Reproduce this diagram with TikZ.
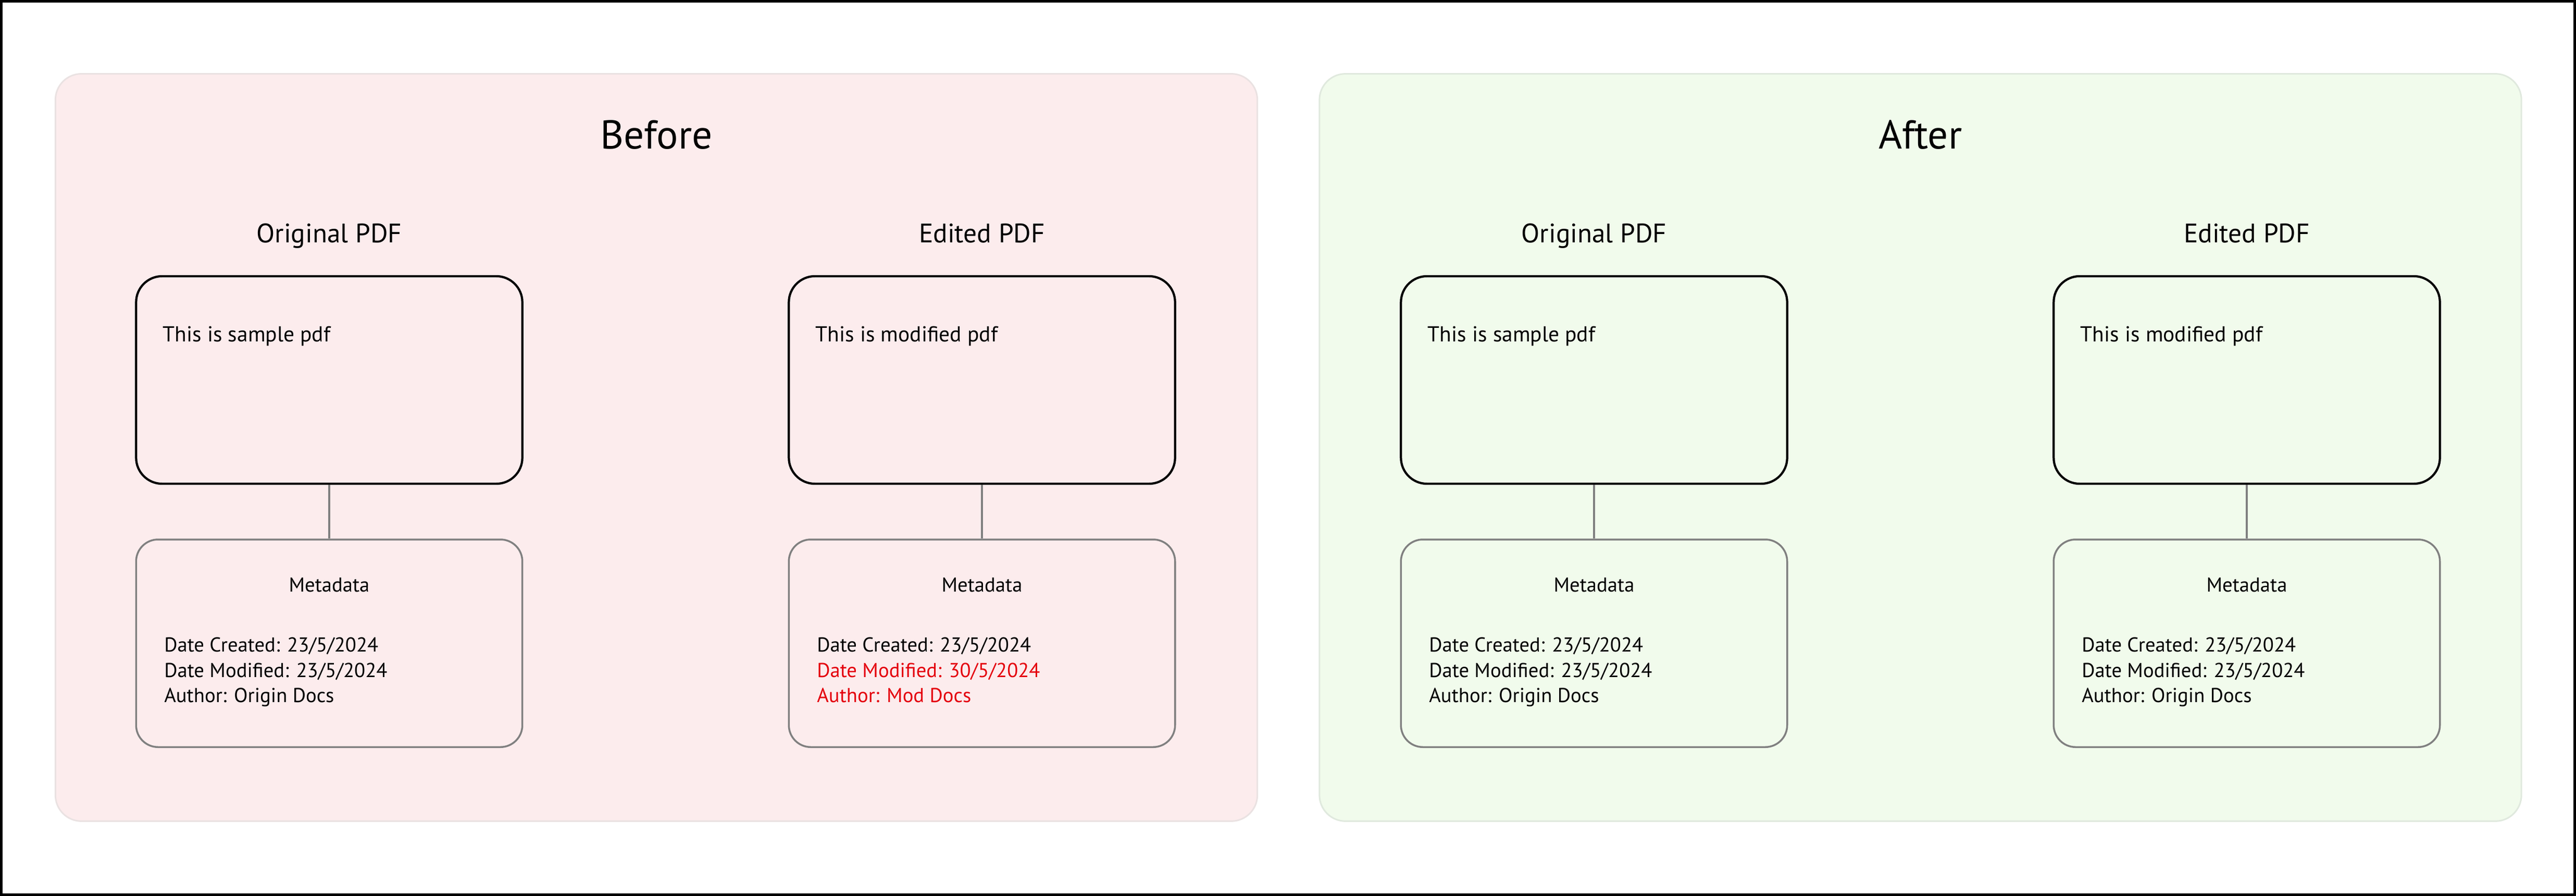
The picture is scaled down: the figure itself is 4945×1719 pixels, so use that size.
\documentclass[tikz,border=0pt]{standalone}
\usepackage{fontspec}
\setmainfont{PT Sans}
\usetikzlibrary{positioning}
\definecolor{beforefill}{RGB}{252,236,237}
\definecolor{beforeline}{RGB}{234,226,226}
\definecolor{afterfill}{RGB}{241,251,236}
\definecolor{afterline}{RGB}{224,233,222}
\definecolor{metaline}{RGB}{128,128,128}
\definecolor{modred}{RGB}{228,0,12}
\tikzset{
	panel/.style = {
		rectangle,
		rounded corners=0.5cm,
		line width=0.85pt,
		minimum width=23.06cm,
		minimum height=14.33cm,
		inner sep=0pt
	},
	panel_before/.style = {
		panel,
		draw=beforeline,
		fill=beforefill
	},
	panel_after/.style = {
		panel,
		draw=afterline,
		fill=afterfill
	},
	title_big/.style = {
		anchor=base,
		font=\fontsize{22}{26}\selectfont
	},
	title_col/.style = {
		anchor=base,
		font=\fontsize{14.6}{17}\selectfont
	},
	node_doc/.style = {
		rectangle,
		rounded corners=0.5cm,
		draw=black,
		line width=1.2pt,
		minimum width=7.41cm,
		minimum height=3.98cm,
		inner sep=0pt
	},
	node_meta/.style = {
		node_doc,
		rounded corners=0.42cm,
		draw=metaline,
		line width=1pt
	},
	text_doc/.style = {
		anchor=base west,
		inner sep=0pt,
		font=\fontsize{11.8}{14}\selectfont
	},
	text_meta/.style = {
		text_doc,
		font=\fontsize{11}{13}\selectfont
	},
	text_mod/.style = {
		text_meta,
		text=modred
	},
	link/.style = {
		draw=metaline,
		line width=0.9pt
	}
}
\begin{document}
\begin{tikzpicture}[x=0.01cm, y=-0.01cm]
\useasboundingbox (0,0) rectangle (4945,1719);
\draw[line width=1.4pt] (2.5,2.5) rectangle (4942.5,1716.5);
% panels
\node [panel_before] (before) at (1260,858.5) {};
\node [panel_after] (after) at (3686.5,858.5) {};
\node [title_big] (before_title) at (1260,286) {Before};
\node [title_big] (after_title) at (3686.5,286) {After};
% before
\node [title_col] (b_orig_title) at (632,466) {Original PDF};
\node [title_col] (b_edit_title) at (1885,466) {Edited PDF};
\node [node_doc] (b_orig) at (632,729) {};
\node [node_doc] (b_edit) at (1885,729) {};
\node [node_meta, below=1.03cm of b_orig] (b_orig_meta) {};
\node [node_meta, below=1.03cm of b_edit] (b_edit_meta) {};
\draw [link] (b_orig) -- (b_orig_meta);
\draw [link] (b_edit) -- (b_edit_meta);
\node [text_doc] (b_orig_text) at ([shift={(0.53cm,-1.275cm)}]b_orig.north west) {This is sample pdf};
\node [text_doc] (b_edit_text) at ([shift={(0.53cm,-1.275cm)}]b_edit.north west) {This is modified pdf};
\node [text_meta, anchor=base] (b_orig_mt) at ([yshift=-1.025cm]b_orig_meta.north) {Metadata};
\node [text_meta] (b_orig_c) at ([shift={(0.55cm,-2.175cm)}]b_orig_meta.north west) {Date Created: 23/5/2024};
\node [text_meta] (b_orig_m) at ([shift={(0.55cm,-2.66cm)}]b_orig_meta.north west) {Date Modified: 23/5/2024};
\node [text_meta] (b_orig_a) at ([shift={(0.55cm,-3.145cm)}]b_orig_meta.north west) {Author: Origin Docs};
\node [text_meta, anchor=base] (b_edit_mt) at ([yshift=-1.025cm]b_edit_meta.north) {Metadata};
\node [text_meta] (b_edit_c) at ([shift={(0.55cm,-2.175cm)}]b_edit_meta.north west) {Date Created: 23/5/2024};
\node [text_mod] (b_edit_m) at ([shift={(0.55cm,-2.66cm)}]b_edit_meta.north west) {Date Modified: 30/5/2024};
\node [text_mod] (b_edit_a) at ([shift={(0.55cm,-3.145cm)}]b_edit_meta.north west) {Author: Mod Docs};
% after
\node [title_col] (a_orig_title) at (3060,466) {Original PDF};
\node [title_col] (a_edit_title) at (4313,466) {Edited PDF};
\node [node_doc] (a_orig) at (3060,729) {};
\node [node_doc] (a_edit) at (4313,729) {};
\node [node_meta, below=1.03cm of a_orig] (a_orig_meta) {};
\node [node_meta, below=1.03cm of a_edit] (a_edit_meta) {};
\draw [link] (a_orig) -- (a_orig_meta);
\draw [link] (a_edit) -- (a_edit_meta);
\node [text_doc] (a_orig_text) at ([shift={(0.53cm,-1.275cm)}]a_orig.north west) {This is sample pdf};
\node [text_doc] (a_edit_text) at ([shift={(0.53cm,-1.275cm)}]a_edit.north west) {This is modified pdf};
\node [text_meta, anchor=base] (a_orig_mt) at ([yshift=-1.025cm]a_orig_meta.north) {Metadata};
\node [text_meta] (a_orig_c) at ([shift={(0.55cm,-2.175cm)}]a_orig_meta.north west) {Date Created: 23/5/2024};
\node [text_meta] (a_orig_m) at ([shift={(0.55cm,-2.66cm)}]a_orig_meta.north west) {Date Modified: 23/5/2024};
\node [text_meta] (a_orig_a) at ([shift={(0.55cm,-3.145cm)}]a_orig_meta.north west) {Author: Origin Docs};
\node [text_meta, anchor=base] (a_edit_mt) at ([yshift=-1.025cm]a_edit_meta.north) {Metadata};
\node [text_meta] (a_edit_c) at ([shift={(0.55cm,-2.175cm)}]a_edit_meta.north west) {Date Created: 23/5/2024};
\node [text_meta] (a_edit_m) at ([shift={(0.55cm,-2.66cm)}]a_edit_meta.north west) {Date Modified: 23/5/2024};
\node [text_meta] (a_edit_a) at ([shift={(0.55cm,-3.145cm)}]a_edit_meta.north west) {Author: Origin Docs};
\end{tikzpicture}
\end{document}
